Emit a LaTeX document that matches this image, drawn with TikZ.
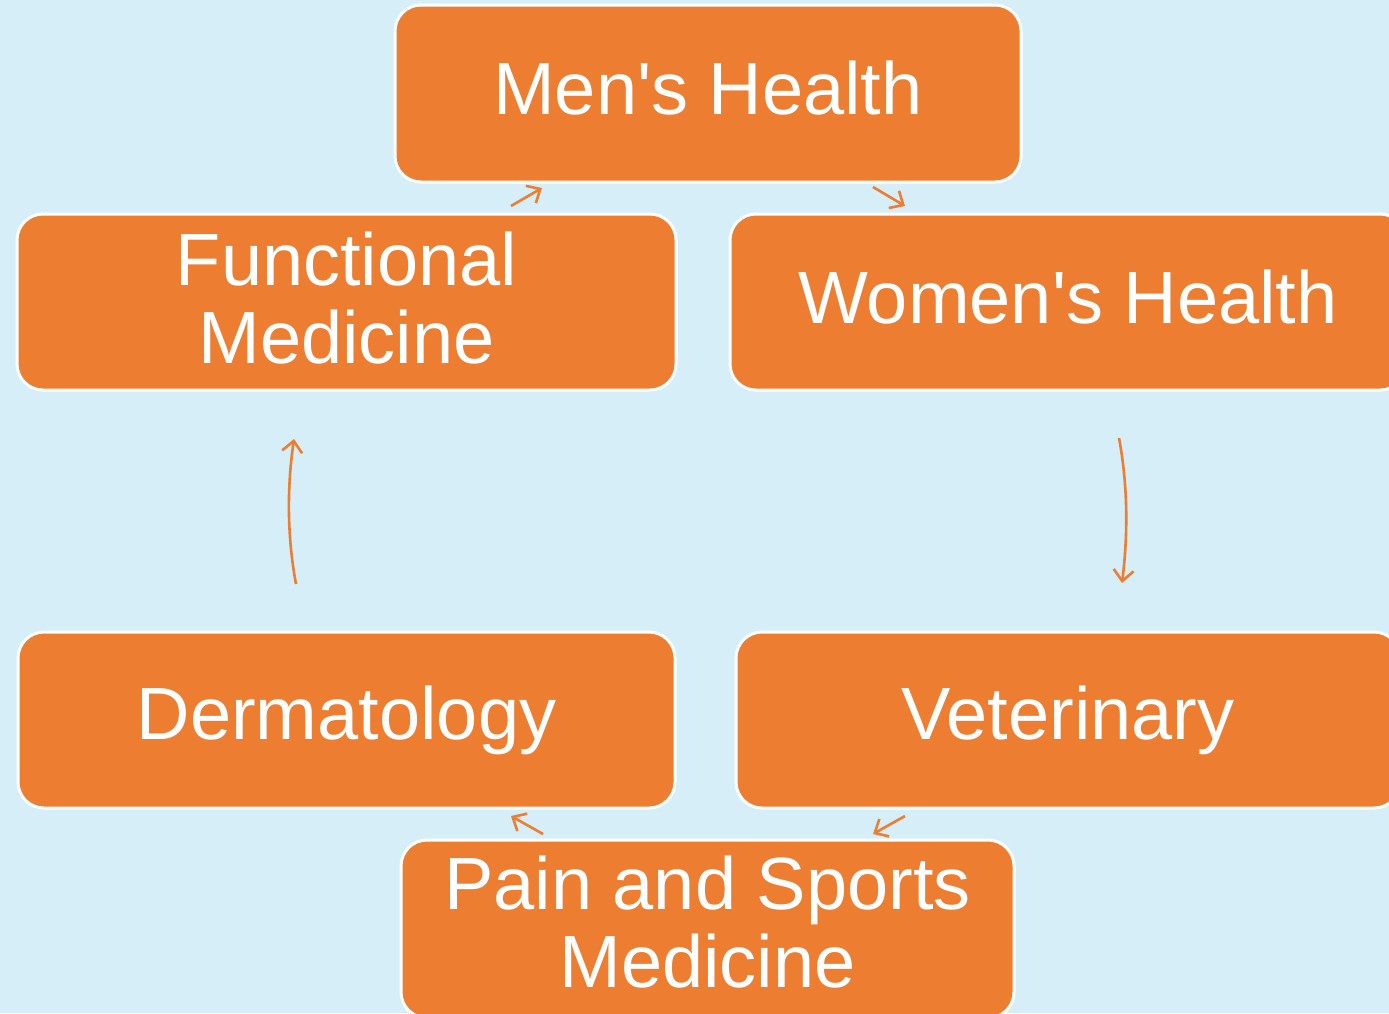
\documentclass[tikz,border=0pt]{standalone}
\usepackage{fontspec}
\setmainfont{Liberation Sans}
\usetikzlibrary{arrows.meta}
\definecolor{bgblue}{HTML}{D5EEF8}
\definecolor{boxorange}{HTML}{ED7D31}
\begin{document}
\begin{tikzpicture}[x=1pt,y=-1pt,
  stage/.style={draw=white, line width=3pt, fill=boxorange, rounded corners=26pt,
    text=white, align=center, inner sep=0pt,
    font=\fontsize{74}{78}\selectfont},
  flow/.style={draw=boxorange, line width=2.6pt,
    -{Straight Barb[length=11pt,width=20pt,line width=2.6pt]}}]
  % canvas
  \fill[bgblue] (0,0) rectangle (1389,1013);
  \useasboundingbox (0,0) rectangle (1389,1013);
  \clip (0,0) rectangle (1389,1013);

  % stages of the cycle
  \node[stage, minimum width=626pt, minimum height=177pt, text depth=11pt] (mens) at (708,93.5) {Men\textquotesingle s Health};
  \node[stage, minimum width=676pt, minimum height=176pt, text depth=10pt] (womens) at (1068,302) {Women\textquotesingle s Health};
  \node[stage, minimum width=664pt, minimum height=176pt] (vet) at (1068,720) {Veterinary};
  \node[stage, minimum width=613pt, minimum height=178pt, text depth=14pt] (pain) at (707.5,929) {Pain and Sports\\Medicine};
  \node[stage, minimum width=657pt, minimum height=176pt] (derm) at (346.5,720) {Dermatology};
  \node[stage, minimum width=659pt, minimum height=176pt, text depth=8pt] (func) at (346.5,302) {Functional\\Medicine};

  % arrow end points in the gaps between stages
  \coordinate (a1s) at (511,206);  \coordinate (a1e) at (542,188);
  \coordinate (a2s) at (873,187);  \coordinate (a2e) at (905,206);
  \coordinate (a3s) at (1119,438); \coordinate (a3e) at (1122,583);
  \coordinate (a4s) at (905,816);  \coordinate (a4e) at (873,834);
  \coordinate (a5s) at (543,834);  \coordinate (a5e) at (511,816);
  \coordinate (a6s) at (296,584);  \coordinate (a6e) at (294,439);

  % connectors
  \draw[flow] (a1s) -- (a1e);
  \draw[flow] (a2s) -- (a2e);
  \draw[flow] (a3s) .. controls (1128,486) and (1128,535) .. (a3e);
  \draw[flow] (a4s) -- (a4e);
  \draw[flow] (a5s) -- (a5e);
  \draw[flow] (a6s) .. controls (287,536) and (287,487) .. (a6e);
\end{tikzpicture}
\end{document}
